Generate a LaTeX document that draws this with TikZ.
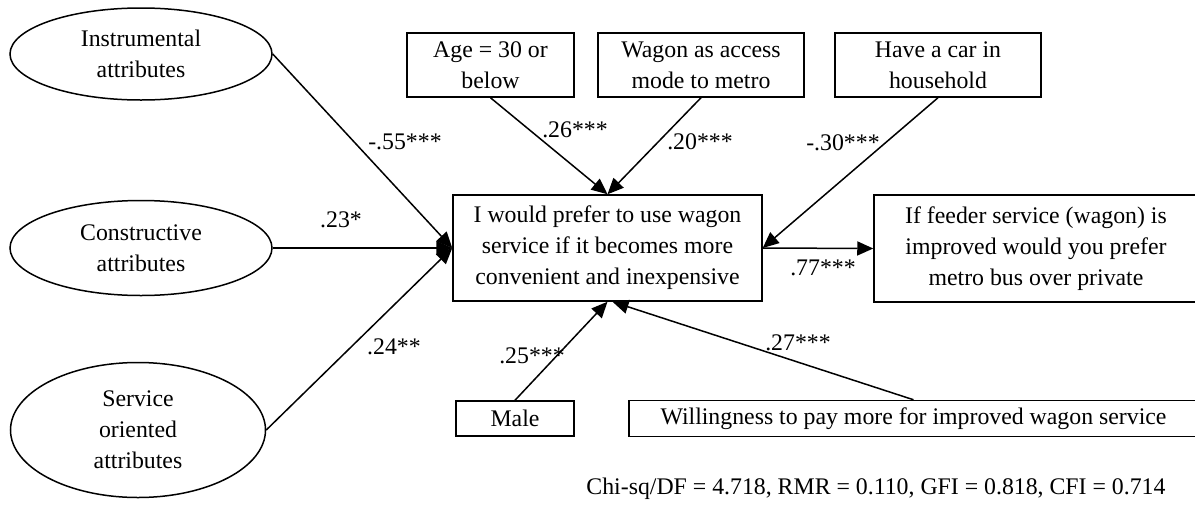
\documentclass[tikz,border=0pt]{standalone}
\usepackage{fontspec}
\setmainfont{Liberation Serif}
\usetikzlibrary{shapes.geometric,arrows.meta}
\tikzset{
  txt/.style={font=\fontsize{23.8}{31}\selectfont, inner sep=0pt, align=center},
  box/.style={txt, draw, line width=1.5pt, rectangle},
  oval/.style={txt, draw, line width=1.5pt, ellipse},
  conn/.style={line width=1.5pt, -{Triangle[length=16pt,width=14pt]}},
  lab/.style={txt}
}
\begin{document}
\begin{tikzpicture}[x=1pt,y=-1pt]
\clip (0,0) rectangle (1195,504);
\fill[white] (0,0) rectangle (1195,504);
% latent ellipses
\node[oval, minimum width=262pt, minimum height=92pt] (e1) at (141,54) {Instrumental\\attributes};
\node[oval, minimum width=262pt, minimum height=95pt] (e2) at (141,248) {Constructive\\attributes};
\node[oval, minimum width=255pt, minimum height=135pt] (e3) at (138,430) {Service\\oriented\\attributes};
% top boxes
\node[box, minimum width=167pt, minimum height=64pt] (age) at (490.5,65) {Age = 30 or\\below};
\node[box, minimum width=206pt, minimum height=64pt] (wag) at (701,65) {Wagon as access\\mode to metro};
\node[box, minimum width=206pt, minimum height=64pt] (car) at (938,65) {Have a car in\\household};
% central and outcome
\node[box, minimum width=309pt, minimum height=106pt] (cen) at (607.5,248) {I would prefer to use wagon\\service if it becomes more\\convenient and inexpensive};
\node[box, minimum width=324pt, minimum height=107pt] (out) at (1036,248.5) {If feeder service (wagon) is\\improved would you prefer\\metro bus over private};
% bottom boxes
\node[box, minimum width=118pt, minimum height=35pt] (male) at (515,418.5) {Male};
\node[box, minimum width=569pt, minimum height=36pt] (will) at (913.5,418.5) {Willingness to pay more for improved wagon service};
% connectors
\draw[conn] (e1.east) -- (cen.west);
\draw[conn] (e2.east) -- (cen.west);
\draw[conn] (e3.east) -- (cen.west);
\draw[conn] (age.south) -- (cen.north);
\draw[conn] (wag.south) -- (cen.north);
\draw[conn] (car.south) -- (cen.east);
\draw[conn] (cen.east) -- (out.west);
\draw[conn] (male.north) -- (cen.south);
\draw[conn] (will.north) -- ([xshift=5pt]cen.south);
% coefficient labels
\node[lab] (l1) at (405,142) {-.55***};
\node[lab] (l2) at (341,220) {.23*};
\node[lab] (l3) at (394,347) {.24**};
\node[lab] (l4) at (575,130) {.26***};
\node[lab] (l5) at (700,142) {.20***};
\node[lab] (l6) at (843,143) {-.30***};
\node[lab] (l7) at (823,268) {.77***};
\node[lab] (l8) at (532,356) {.25***};
\node[lab] (l9) at (798,343) {.27***};
% fit indices
\node[lab] (fit) at (876,489) {Chi-sq/DF = 4.718, RMR = 0.110, GFI = 0.818, CFI = 0.714};
\end{tikzpicture}
\end{document}
